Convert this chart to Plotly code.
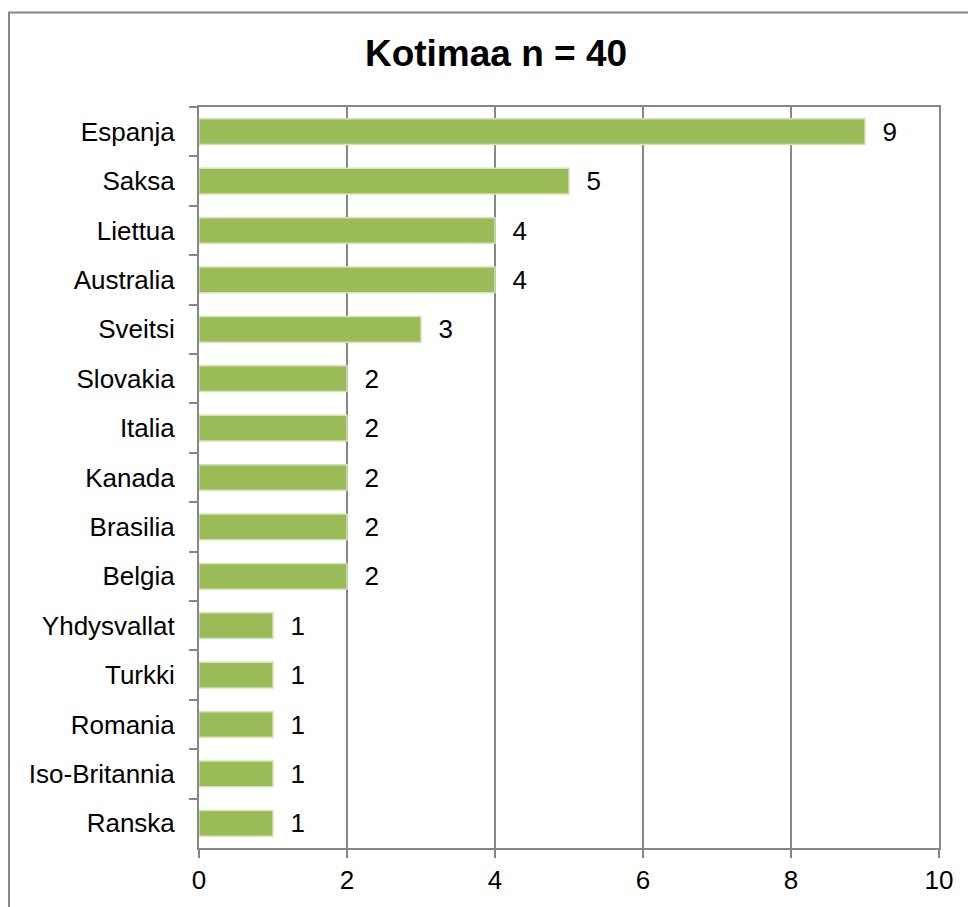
import plotly.graph_objects as go

countries = ["Espanja", "Saksa", "Liettua", "Australia", "Sveitsi", "Slovakia",
             "Italia", "Kanada", "Brasilia", "Belgia", "Yhdysvallat", "Turkki",
             "Romania", "Iso-Britannia", "Ranska"]
counts = [9, 5, 4, 4, 3, 2, 2, 2, 2, 2, 1, 1, 1, 1, 1]
x_ticks = [0, 2, 4, 6, 8, 10]
title_text = "Kotimaa n = 40"

FONT = "Liberation Sans, Arial, sans-serif"
GRAY = "#878787"

W, H = 968, 907
# plot area in page pixels
PL, PR, PT, PB = 199, 939, 107, 852
L, R, T, B = PL, W - PR, PT, H - PB
pw, ph = W - L - R, H - T - B

fig = go.Figure(go.Bar(
    x=counts, y=countries, orientation="h",
    width=0.52,
    marker=dict(color="#9BBB59", line=dict(color="#D4E3B7", width=1.5)),
    text=["\u00a0\u00a0" + str(v) for v in counts],
    textposition="outside",
    constraintext="none",
    textfont=dict(family=FONT, size=26, color="#000000"),
    cliponaxis=False,
    hoverinfo="skip",
))

fig.update_layout(
    width=W, height=H,
    margin=dict(l=L, r=R, t=T, b=B, pad=0),
    paper_bgcolor="white", plot_bgcolor="white",
    showlegend=False,
    title=dict(text="<b>" + title_text + "</b>", x=(496 - PL) / pw, xref="paper",
               xanchor="center", y=(H - 53) / H, yanchor="middle",
               font=dict(family=FONT, size=37, color="#000000")),
    font=dict(family=FONT, size=26, color="#000000"),
    xaxis=dict(range=[0, 10], tickvals=x_ticks, ticktext=[str(v) for v in x_ticks],
               showgrid=True, gridcolor=GRAY, gridwidth=2,
               showline=True, linecolor=GRAY, linewidth=2, mirror=True,
               ticks="outside", ticklen=8, tickcolor=GRAY, tickwidth=2,
               tickfont=dict(family=FONT, size=26, color="#000000"),
               zeroline=False, fixedrange=True),
    yaxis=dict(autorange="reversed", type="category",
               showgrid=False, showline=True, linecolor=GRAY, linewidth=2, mirror=True,
               ticks="outside", ticklen=8, tickcolor=GRAY, tickwidth=2,
               tickson="boundaries", ticklabelstandoff=17,
               tickfont=dict(family=FONT, size=26, color="#000000"),
               fixedrange=True),
    bargap=0.48,
    shapes=[dict(type="rect", xref="paper", yref="paper",
                 x0=(9 - PL) / pw, x1=(W + 60 - L) / pw,
                 y0=-(B + 60) / ph, y1=(PB - 12) / ph,
                 line=dict(color=GRAY, width=2), fillcolor="rgba(0,0,0,0)",
                 layer="below")],
)

fig.write_html(
    "out.html",
    config={"displayModeBar": False, "staticPlot": True},
    post_script="document.body.style.margin='0';document.documentElement.style.overflow='hidden';document.body.style.overflow='hidden';",
)
